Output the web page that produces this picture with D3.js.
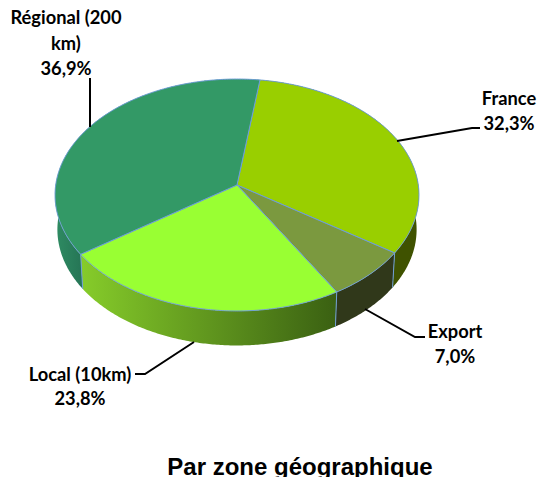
<!DOCTYPE html>
<html><head><meta charset="utf-8">
<script src="https://cdn.jsdelivr.net/npm/d3@7"></script>
<style>html,body{margin:0;padding:0;background:#fff;overflow:hidden}svg{display:block}</style>
</head><body><svg id="c" width="539" height="477"></svg>
<script>
const categories = ["France", "Export", "Local (10km)", "Régional (200 km)"];
const values = [32.3, 7.0, 23.8, 36.9];
const valueLabels = ["32,3%", "7,0%", "23,8%", "36,9%"];
const topColors = ["#99cf00", "#7b993f", "#99ff33", "#339966"];
const sideStops = [["#3f5200","#3f5200"],["#30381a","#30381a"],["#86cc2a","#3a6012"],["#2f8c63","#267656"]];
const labelLines = [["France"],["Export"],["Local (10km)"],["Régional (200","km)"]];
const labelPos = [[509,98,25],[455,331,25],[80,374,24],[66,17,25.5]];
const leaders = [
  [[397,141],[472,128],[480,128]],
  [[365,309],[415,337],[425,337]],
  [[194,342],[145,374],[135,374]],
  [[90,127],[90,78]]
];
const cx=237, apexY=185, A=181.3, B=115.1, k=0.0862, depth=34.5, shrink=0.987;
const proj=(t,z=0)=>{const u=Math.sin(t),v=-Math.cos(t),d=1-k*v;
  const s=z?shrink:1;
  return [cx+s*A*u/d, apexY+B*v/d+z];};
const pie=d3.pie().sort(null).startAngle(7.9*Math.PI/180).endAngle((360+7.9)*Math.PI/180);
const arcs=pie(values);
const svg=d3.select("#c");
const defs=svg.append("defs");
const line=d3.line();
const range=(a,b)=>{const n=Math.max(2,Math.ceil((b-a)/0.01));return d3.range(n+1).map(i=>a+(b-a)*i/n);};
const edge="#6f9fd6";
arcs.forEach((d,i)=>{
  const pts=range(d.startAngle,d.endAngle);
  const xs=pts.map(t=>proj(t)[0]);
  const vis=pts.filter(t=>Math.cos(t)<0.1).map(t=>proj(t)[0]);
  const g=defs.append("linearGradient").attr("id","s"+i).attr("gradientUnits","userSpaceOnUse")
    .attr("x1",d3.min(vis.length?vis:xs)).attr("x2",d3.max(vis.length?vis:xs)).attr("y1",0).attr("y2",0);
  g.append("stop").attr("offset",0).attr("stop-color",sideStops[i][0]);
  g.append("stop").attr("offset",1).attr("stop-color",sideStops[i][1]);
  const poly=pts.map(t=>proj(t)).concat(pts.slice().reverse().map(t=>proj(t,depth)));
  svg.append("path").attr("d",line(poly)+"Z").attr("fill",`url(#s${i})`);
});
arcs.filter(d=>Math.cos(d.startAngle)<0).forEach(d=>{
  svg.append("path").attr("d",line([proj(d.startAngle),proj(d.startAngle,depth)]))
    .attr("stroke",edge).attr("stroke-width",1).attr("fill","none");
});
arcs.forEach((d,i)=>{
  const pts=range(d.startAngle,d.endAngle);
  const poly=[[cx,apexY]].concat(pts.map(t=>proj(t)));
  svg.append("path").attr("d",line(poly)+"Z").attr("fill",topColors[i]).attr("stroke",edge).attr("stroke-width",1).attr("stroke-linejoin","round");
});
leaders.forEach(l=>svg.append("path").attr("d",line(l)).attr("fill","none").attr("stroke","#000").attr("stroke-width",2));
categories.forEach((c,i)=>{
  const [x,y,lh]=labelPos[i];
  const lines=labelLines[i].concat([valueLabels[i]]);
  lines.forEach((t,j)=>svg.append("text").text(t).attr("x",x).attr("y",y+j*lh)
    .attr("text-anchor","middle").attr("dominant-baseline","central")
    .attr("font-family","Lato, sans-serif").attr("font-weight",700).attr("font-size",18.3).attr("fill","#000"));
});
svg.append("text").text("Par zone géographique").attr("x",300).attr("y",475).attr("text-anchor","middle")
  .attr("font-family","'Liberation Sans', Arial, sans-serif").attr("font-weight",700).attr("font-size",24).attr("fill","#000");
</script></body></html>
